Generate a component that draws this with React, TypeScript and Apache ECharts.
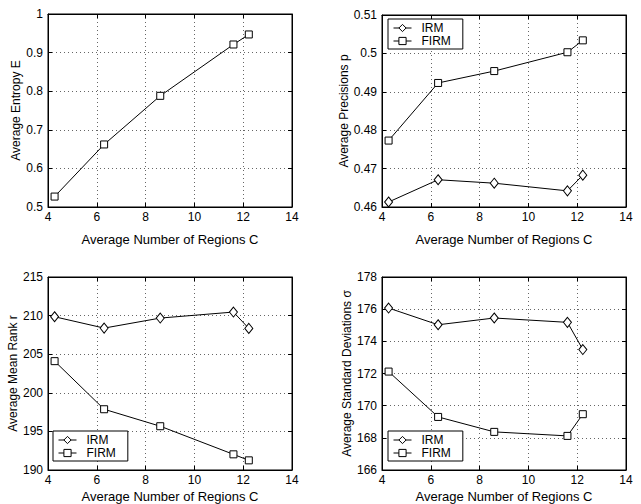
import React, { useEffect, useRef } from "react";
import * as echarts from "echarts";

const regionsC = [4.27, 6.3, 8.6, 11.6, 12.23];
const entropy = [0.527, 0.662, 0.788, 0.921, 0.947];
const precisionIRM = [0.4613, 0.4671, 0.4662, 0.4642, 0.4683];
const precisionFIRM = [0.4773, 0.4923, 0.4954, 0.5003, 0.5034];
const rankIRM = [209.85, 208.38, 209.68, 210.46, 208.34];
const rankFIRM = [204.1, 197.87, 195.67, 192.03, 191.25];
const stdIRM = [176.07, 175.03, 175.45, 175.18, 173.49];
const stdFIRM = [172.12, 169.3, 168.37, 168.12, 169.47];

const xTitle = "Average Number of Regions C";
const yTitles = ["Average Entropy E", "Average Precisions p", "Average Mean Rank r", "Average Standard Deviations σ"];
const yRanges = [
  [0.5, 1, 0.1],
  [0.46, 0.51, 0.01],
  [190, 215, 5],
  [166, 178, 2],
];
const xRange = [4, 14, 2];

const FONT = "'Liberation Sans', Arial, Helvetica, sans-serif";

const pair = (ys: number[]) => regionsC.map((x, i) => [x, ys[i]]);

export default function App() {
  const ref = useRef<HTMLDivElement>(null);
  useEffect(() => {
    if (!ref.current) return;
    const chart = echarts.init(ref.current, undefined, { renderer: "svg" });
    const grids = [
      { left: 48, top: 14, width: 244, height: 193 },
      { left: 382, top: 15, width: 244, height: 192 },
      { left: 48, top: 277, width: 244, height: 193 },
      { left: 382, top: 277, width: 244, height: 193 },
    ];
    const yNameGaps = [22, 31, 29, 28];
    const xNameGaps = [26, 26, 20, 20];
    const grid = grids.map((g) => ({ ...g, show: true, borderColor: "#000", borderWidth: 1, backgroundColor: "#fff" }));
    const xAxis: any[] = [];
    const yAxis: any[] = [];
    grids.forEach((g, i) => {
      xAxis.push({
        type: "value",
        gridIndex: i,
        min: xRange[0],
        max: xRange[1],
        interval: xRange[2],
        name: xTitle,
        nameLocation: "middle",
        nameGap: xNameGaps[i],
        nameTextStyle: { fontFamily: FONT, fontSize: 13, color: "#000" },
        axisLine: { show: true, onZero: false, lineStyle: { color: "#000", width: 1 } },
        axisTick: { show: true, inside: true, length: 4, lineStyle: { color: "#000" } },
        axisLabel: { fontFamily: FONT, fontSize: 12, color: "#000", margin: 4 },
        splitLine: { show: true, lineStyle: { color: "#666", type: [1, 3], width: 1 } },
      });
      xAxis.push({
        type: "value",
        gridIndex: i,
        position: "top",
        min: xRange[0],
        max: xRange[1],
        interval: xRange[2],
        axisLine: { show: true, onZero: false, lineStyle: { color: "#000", width: 1 } },
        axisTick: { show: true, inside: true, length: 4, lineStyle: { color: "#000" } },
        axisLabel: { show: false },
        splitLine: { show: false },
      });
      const [mn, mx, iv] = yRanges[i];
      yAxis.push({
        type: "value",
        gridIndex: i,
        min: mn,
        max: mx,
        interval: iv,
        name: yTitles[i],
        nameLocation: "middle",
        nameGap: yNameGaps[i],
        nameTextStyle: { fontFamily: FONT, fontSize: 12, color: "#000" },
        axisLine: { show: true, onZero: false, lineStyle: { color: "#000", width: 1 } },
        axisTick: { show: true, inside: true, length: 4, lineStyle: { color: "#000" } },
        axisLabel: { fontFamily: FONT, fontSize: 12, color: "#000", margin: 5 },
        splitLine: { show: true, lineStyle: { color: "#666", type: [1, 3], width: 1 } },
      });
      yAxis.push({
        type: "value",
        gridIndex: i,
        position: "right",
        min: mn,
        max: mx,
        interval: iv,
        axisLine: { show: true, onZero: false, lineStyle: { color: "#000", width: 1 } },
        axisTick: { show: true, inside: true, length: 4, lineStyle: { color: "#000" } },
        axisLabel: { show: false },
        splitLine: { show: false },
      });
    });

    const lineBase = {
      type: "line",
      lineStyle: { color: "#000", width: 1 },
      itemStyle: { color: "#fff", borderColor: "#000", borderWidth: 1 },
      emphasis: { disabled: true },
      z: 3,
    };
    const sq = { symbol: "rect", symbolSize: 7 };
    const dia = { symbol: "diamond", symbolSize: [8, 10] };
    const series: any[] = [
      { ...lineBase, ...sq, name: "E", xAxisIndex: 0, yAxisIndex: 0, data: pair(entropy) },
      { ...lineBase, ...dia, name: "IRM", xAxisIndex: 2, yAxisIndex: 2, data: pair(precisionIRM) },
      { ...lineBase, ...sq, name: "FIRM", xAxisIndex: 2, yAxisIndex: 2, data: pair(precisionFIRM) },
      { ...lineBase, ...dia, name: "IRM", xAxisIndex: 4, yAxisIndex: 4, data: pair(rankIRM) },
      { ...lineBase, ...sq, name: "FIRM", xAxisIndex: 4, yAxisIndex: 4, data: pair(rankFIRM) },
      { ...lineBase, ...dia, name: "IRM", xAxisIndex: 6, yAxisIndex: 6, data: pair(stdIRM) },
      { ...lineBase, ...sq, name: "FIRM", xAxisIndex: 6, yAxisIndex: 6, data: pair(stdFIRM) },
    ];

    const legendBase = {
      orient: "vertical",
      data: ["IRM", "FIRM"],
      itemWidth: 18,
      itemHeight: 9,
      itemGap: 1,
      padding: [3, 12, 2, 5],
      borderColor: "#000",
      borderWidth: 1,
      backgroundColor: "#fff",
      selectedMode: false,
      itemStyle: { color: "#fff", borderColor: "#000", borderWidth: 1 },
      lineStyle: { color: "#000", width: 1 },
      textStyle: { fontFamily: FONT, fontSize: 12, color: "#000", padding: [0, 0, 0, 5] },
      z: 10,
    };
    const legend = [
      { ...legendBase, left: 388, top: 19 },
      { ...legendBase, left: 53, top: 431 },
      { ...legendBase, left: 388, top: 431 },
    ];

    chart.setOption({
      animation: false,
      backgroundColor: "#fff",
      grid,
      xAxis,
      yAxis,
      series,
      legend,
    });
    return () => chart.dispose();
  }, []);
  return (
    <div
      ref={ref}
      style={{ position: "absolute", left: 0, top: 0, width: 641, height: 504 }}
    />
  );
}
